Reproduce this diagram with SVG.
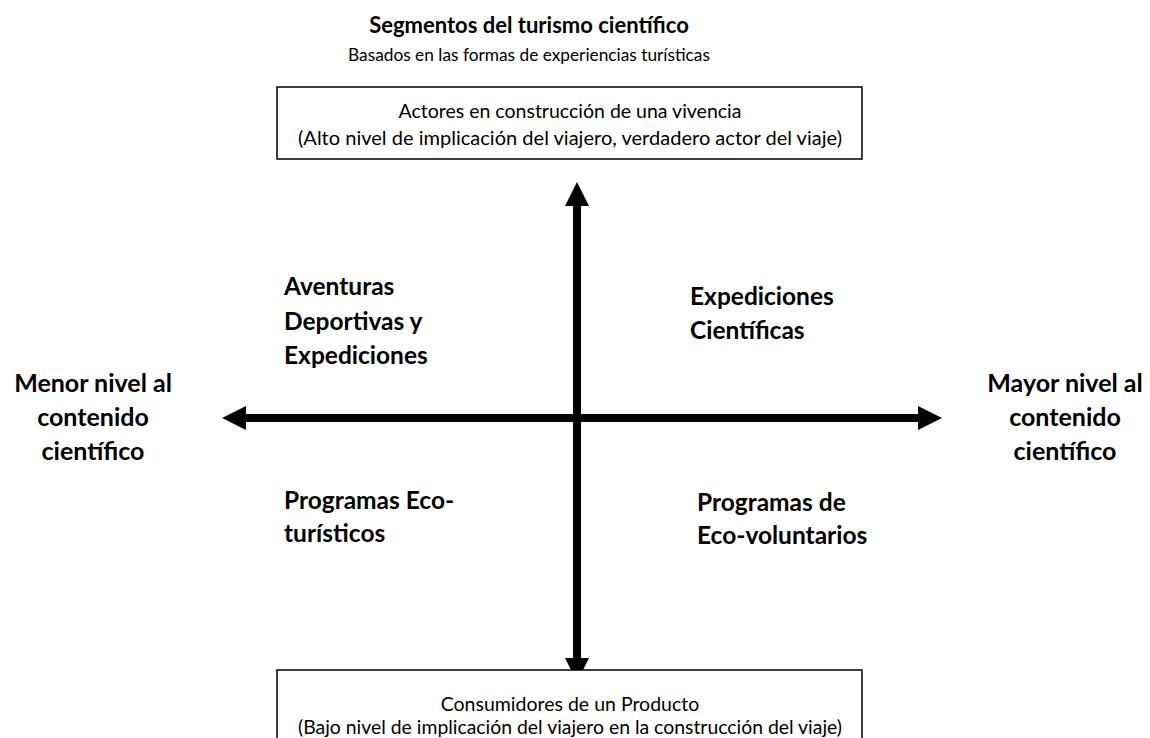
<svg xmlns="http://www.w3.org/2000/svg" width="1150" height="738" viewBox="0 0 1150 738">
  <style>
    text { font-family: Lato, "Liberation Sans", sans-serif; fill: #000; }
    .title { font-size: 22px; font-weight: bold; text-anchor: middle; }
    .sub { font-size: 17.3px; text-anchor: middle; }
    .box { fill: #fff; stroke: #000; stroke-width: 1.5; }
    .boxtext { font-size: 19.5px; text-anchor: middle; }
    .lbl { font-size: 24.5px; font-weight: bold; }
    .side { font-size: 25px; font-weight: bold; text-anchor: middle; }
    .axis { stroke: #000; stroke-width: 8; fill: none; }
  </style>
  <defs>
    <marker id="ah" viewBox="0 0 24 24" refX="2" refY="12" markerWidth="24" markerHeight="24" markerUnits="userSpaceOnUse" orient="auto-start-reverse">
      <path d="M0,0 L24,12 L0,24 Z" fill="#000"/>
    </marker>
  </defs>
  <rect width="1150" height="738" fill="#fff"/>

  <g id="header">
    <text class="title" x="529" y="33">Segmentos del turismo científico</text>
    <text class="sub" x="529" y="61">Basados en las formas de experiencias turísticas</text>
  </g>

  <g id="connectors">
    <line class="axis" x1="577" y1="660" x2="577" y2="204" marker-start="url(#ah)" marker-end="url(#ah)"/>
    <line class="axis" x1="244" y1="418" x2="920" y2="418" marker-start="url(#ah)" marker-end="url(#ah)"/>
  </g>

  <g id="top-box">
    <rect class="box" x="277" y="87" width="585" height="72"/>
    <text class="boxtext" x="570" y="118">Actores en construcción de una vivencia</text>
    <text class="boxtext" x="570" y="145" textLength="544" lengthAdjust="spacingAndGlyphs">(Alto nivel de implicación del viajero, verdadero actor del viaje)</text>
  </g>

  <g id="bottom-box">
    <rect class="box" x="277" y="670" width="585" height="90"/>
    <text class="boxtext" x="570" y="711">Consumidores de un Producto</text>
    <text class="boxtext" x="570" y="734" textLength="544" lengthAdjust="spacingAndGlyphs">(Bajo nivel de implicación del viajero en la construcción del viaje)</text>
  </g>

  <g id="left-label">
    <text class="side" x="93" y="392">Menor nivel al</text>
    <text class="side" x="93" y="426">contenido</text>
    <text class="side" x="93" y="460">científico</text>
  </g>

  <g id="right-label">
    <text class="side" x="1065" y="392">Mayor nivel al</text>
    <text class="side" x="1065" y="426">contenido</text>
    <text class="side" x="1065" y="460">científico</text>
  </g>

  <g id="q-aventuras">
    <text class="lbl" x="284" y="295">Aventuras</text>
    <text class="lbl" x="284" y="330">Deportivas y</text>
    <text class="lbl" x="284" y="364">Expediciones</text>
  </g>

  <g id="q-expediciones">
    <text class="lbl" x="690" y="305">Expediciones</text>
    <text class="lbl" x="690" y="339">Científicas</text>
  </g>

  <g id="q-ecoturisticos">
    <text class="lbl" x="284" y="509">Programas Eco-</text>
    <text class="lbl" x="284" y="542">turísticos</text>
  </g>

  <g id="q-ecovoluntarios">
    <text class="lbl" x="697" y="511">Programas de</text>
    <text class="lbl" x="697" y="544">Eco-voluntarios</text>
  </g>
</svg>
